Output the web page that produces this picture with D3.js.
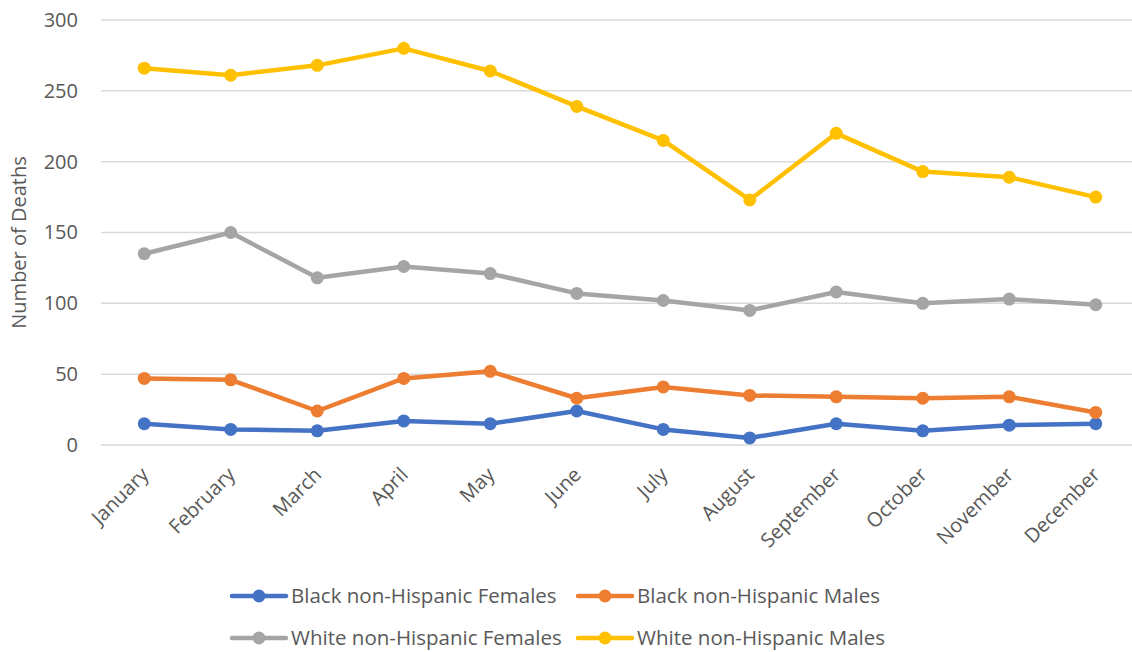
<!DOCTYPE html>
<html>
<head>
<meta charset="utf-8">
<script src="https://cdn.jsdelivr.net/npm/d3@7"></script>
<style>
  html, body { margin: 0; padding: 0; background: #fff; }
  svg text { font-family: "Open Sans", sans-serif; fill: #595959; }
</style>
</head>
<body>
<div id="chart"></div>
<script>
// months on the x axis
const months = ['January', 'February', 'March', 'April', 'May', 'June',
  'July', 'August', 'September', 'October', 'November', 'December'];

// series values
const blackFemales = [15, 11, 10, 17, 15, 24, 11, 5, 15, 10, 14, 15];
const blackMales = [47, 46, 24, 47, 52, 33, 41, 35, 34, 33, 34, 23];
const whiteFemales = [135, 150, 118, 126, 121, 107, 102, 95, 108, 100, 103, 99];
const whiteMales = [266, 261, 268, 280, 264, 239, 215, 173, 220, 193, 189, 175];

const seriesNames = ['Black non-Hispanic Females', 'Black non-Hispanic Males',
  'White non-Hispanic Females', 'White non-Hispanic Males'];
const yTicks = [0, 50, 100, 150, 200, 250, 300];

const colors = ['#4472C4', '#ED7D31', '#A5A5A5', '#FFC000'];
const series = [blackFemales, blackMales, whiteFemales, whiteMales].map((v, i) => ({
  name: seriesNames[i], values: v, color: colors[i]
}));

const W = 1132, H = 652;
const margin = { top: 20, left: 101, right: -7, bottom: 207 };

const svg = d3.select('#chart').append('svg')
  .attr('width', W)
  .attr('height', H);

const x = d3.scalePoint()
  .domain(months)
  .range([margin.left, W - margin.right])
  .padding(0.5);

const y = d3.scaleLinear()
  .domain([0, 300])
  .range([H - margin.bottom, margin.top]);

// gridlines
svg.append('g')
  .attr('class', 'grid')
  .selectAll('line')
  .data(yTicks)
  .enter()
  .append('line')
  .attr('x1', margin.left)
  .attr('x2', W - margin.right)
  .attr('y1', d => y(d))
  .attr('y2', d => y(d))
  .attr('stroke', '#d9d9d9')
  .attr('stroke-width', 1.5);

// y axis labels
const yAxis = svg.append('g')
  .attr('transform', `translate(${margin.left - 23}, 0)`)
  .call(d3.axisLeft(y).tickValues(yTicks).tickSize(0).tickPadding(0));
yAxis.select('.domain').remove();
yAxis.selectAll('text')
  .style('font-size', '20px')
  .attr('fill', '#595959');

// y axis title
svg.append('text')
  .attr('transform', `translate(26, ${(y(0) + y(300)) / 2 + 10}) rotate(-90)`)
  .attr('text-anchor', 'middle')
  .style('font-size', '20px')
  .text('Number of Deaths');

// x axis labels
const xAxis = svg.append('g')
  .attr('transform', `translate(0, ${y(0)})`)
  .call(d3.axisBottom(x).tickSize(0).tickPadding(0));
xAxis.select('.domain').remove();
xAxis.selectAll('text')
  .style('font-size', '20px')
  .attr('fill', '#595959')
  .attr('text-anchor', 'end')
  .attr('dy', null)
  .attr('y', 0)
  .attr('transform', 'translate(5, 31) rotate(-45)');

// lines and markers
const line = d3.line()
  .x((d, i) => x(months[i]))
  .y(d => y(d));

const lines = svg.append('g').attr('class', 'series');
series.forEach(s => {
  const g = lines.append('g');
  g.append('path')
    .datum(s.values)
    .attr('fill', 'none')
    .attr('stroke', s.color)
    .attr('stroke-width', 4.5)
    .attr('stroke-linejoin', 'round')
    .attr('d', line);
  g.selectAll('circle')
    .data(s.values)
    .enter()
    .append('circle')
    .attr('cx', (d, i) => x(months[i]))
    .attr('cy', d => y(d))
    .attr('r', 6.5)
    .attr('fill', s.color);
});

// legend
const legendPos = [[232, 596], [578, 596], [232, 638], [578, 638]];
const legend = svg.append('g').attr('class', 'legend');
series.forEach((s, i) => {
  const [lx, ly] = legendPos[i];
  const item = legend.append('g').attr('transform', `translate(${lx}, ${ly})`);
  item.append('line')
    .attr('x1', 0).attr('x2', 54)
    .attr('y1', 0).attr('y2', 0)
    .attr('stroke', s.color)
    .attr('stroke-width', 4.5)
    .attr('stroke-linecap', 'round');
  item.append('circle')
    .attr('cx', 27).attr('cy', 0)
    .attr('r', 6.5)
    .attr('fill', s.color);
  item.append('text')
    .attr('x', 59).attr('y', 0)
    .attr('dy', '0.35em')
    .style('font-size', '20.5px')
    .text(s.name);
});
</script>
</body>
</html>
